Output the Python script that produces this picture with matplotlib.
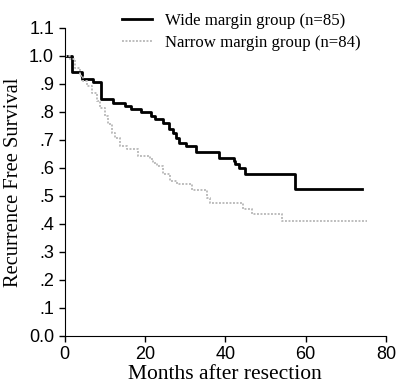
import matplotlib
matplotlib.use("Agg")
import matplotlib.pyplot as plt

# Kaplan-Meier step data
wide_months = [0, 1.8, 4.3, 7.2, 9.0, 12.0, 15.0, 16.6, 19.1, 21.6, 22.4, 24.4,
               26.1, 26.9, 27.7, 28.5, 30.1, 32.6, 38.4, 42.1, 42.5, 43.3, 45.0,
               57.4, 74.0]
wide_surv = [1.0, 0.943, 0.917, 0.905, 0.845, 0.833, 0.821, 0.81, 0.798, 0.786,
             0.774, 0.762, 0.738, 0.726, 0.708, 0.69, 0.679, 0.655, 0.637, 0.625,
             0.613, 0.6, 0.577, 0.524, 0.524]

narrow_months = [0, 1.4, 2.6, 3.9, 4.7, 5.5, 6.8, 8.0, 8.8, 10.1, 10.9, 11.7,
                 12.6, 13.8, 15.5, 18.4, 21.3, 22.1, 22.9, 24.6, 26.2, 27.9,
                 31.6, 35.4, 36.2, 44.4, 46.6, 54.0, 75.2]
narrow_surv = [1.0, 0.988, 0.958, 0.929, 0.911, 0.893, 0.869, 0.839, 0.815,
               0.786, 0.756, 0.726, 0.708, 0.679, 0.667, 0.643, 0.631, 0.619,
               0.607, 0.577, 0.554, 0.542, 0.522, 0.494, 0.476, 0.452, 0.435,
               0.41, 0.41]

y_ticks = [0.0, 0.1, 0.2, 0.3, 0.4, 0.5, 0.6, 0.7, 0.8, 0.9, 1.0, 1.1]
y_labels = ["0.0", ".1", ".2", ".3", ".4", ".5", ".6", ".7", ".8", ".9", "1.0", "1.1"]
x_ticks = [0, 20, 40, 60, 80]

fig = plt.figure(figsize=(3.97, 3.87), dpi=100)
ax = fig.add_axes([0.1625, 0.132, 0.81, 0.796])

ax.plot(wide_months, wide_surv, drawstyle="steps-post", color="black",
        linewidth=2.0, label="Wide margin group (n=85)")
ax.plot(narrow_months, narrow_surv, drawstyle="steps-post", color="#bdbdbd",
        linewidth=1.4, linestyle=(0, (1, 0.8)), label="Narrow margin group (n=84)")

ax.set_xlim(0, 80)
ax.set_ylim(0, 1.1)
ax.set_xticks(x_ticks)
ax.set_yticks(y_ticks)
ax.set_yticklabels(y_labels)
ax.tick_params(labelsize=13, length=4, width=1, direction="out")
for lab in ax.get_xticklabels() + ax.get_yticklabels():
    lab.set_family("Liberation Sans")

ax.spines["top"].set_visible(False)
ax.spines["right"].set_visible(False)

ax.set_xlabel("Months after resection", family="Liberation Serif", fontsize=15.5,
              labelpad=1)
ax.set_ylabel("Recurrence Free Survival", family="Liberation Serif", fontsize=14.8,
              labelpad=4)

ax.legend(loc="upper left", bbox_to_anchor=(0.158, 1.069), frameon=False,
          prop={"family": "Liberation Serif", "size": 12.1},
          handlelength=1.8, handletextpad=0.77, labelspacing=0.31,
          borderaxespad=0)

fig.savefig("out.png", dpi=100)
